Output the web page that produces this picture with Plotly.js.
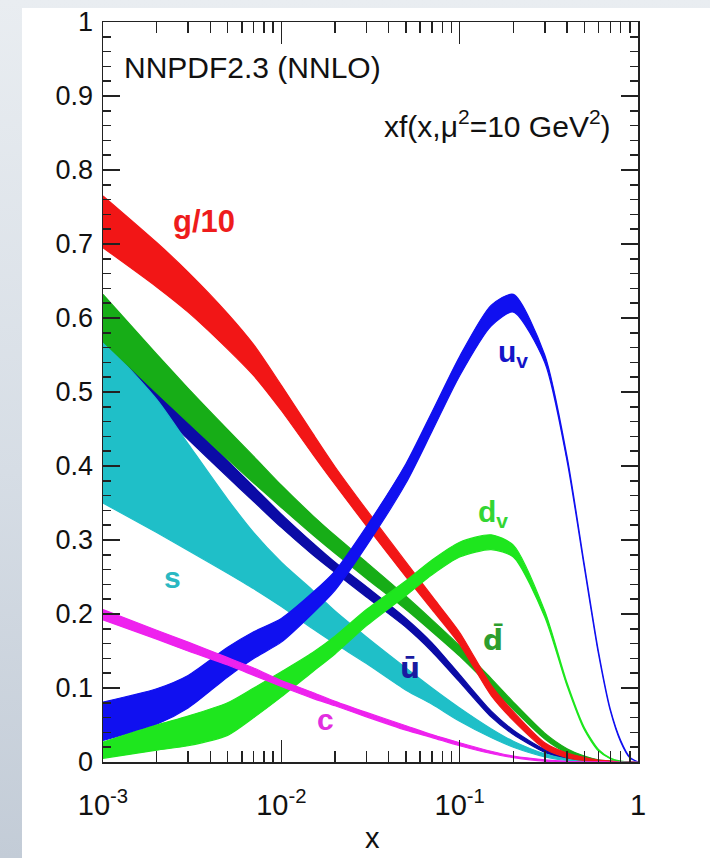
<!DOCTYPE html>
<html>
<head>
<meta charset="utf-8">
<script src="https://cdn.plot.ly/plotly-3.0.1.min.js"></script>
<style>
  html, body { margin:0; padding:0; width:710px; height:858px; overflow:hidden; }
  body { background: linear-gradient(to bottom, #e9edf1 0%, #d6dde5 55%, #c3ccd7 100%); position:relative; }
  #panel { position:absolute; left:22px; top:8px; right:0; bottom:0; background:#ffffff; }
  #chart { position:absolute; left:0; top:0; width:710px; height:858px; }
</style>
</head>
<body>
<div id="panel"></div>
<div id="chart"></div>
<script>
// x grid (momentum fraction)
const xs = [0.001,0.002,0.003,0.005,0.007,0.01,0.015,0.02,0.03,0.05,0.07,0.1,0.15,0.2,0.3,0.4,0.5,0.6,0.7,0.8,0.9,1.0];

// g/10 (central value and uncertainty)
const gCentral = [0.730,0.672,0.635,0.582,0.543,0.492,0.430,0.387,0.330,0.260,0.215,0.167,0.097,0.062,0.022,0.009,0.004,0.0015,0.0005,0.0001,0,0];
const gError   = [0.035,0.030,0.027,0.024,0.021,0.017,0.014,0.012,0.011,0.010,0.009,0.008,0.007,0.006,0.004,0.003,0.002,0.001,0.0008,0.0005,0.0003,0];

// dbar
const dbarCentral = [0.600,0.525,0.482,0.429,0.395,0.359,0.320,0.294,0.259,0.215,0.184,0.150,0.107,0.076,0.035,0.015,0.006,0.002,0.0007,0.0002,0,0];
const dbarError   = [0.032,0.026,0.023,0.020,0.018,0.015,0.013,0.012,0.011,0.009,0.008,0.007,0.006,0.005,0.004,0.003,0.002,0.001,0.0008,0.0005,0.0003,0];

// ubar
const ubarCentral = [0.560,0.490,0.448,0.396,0.362,0.326,0.288,0.263,0.230,0.188,0.155,0.113,0.065,0.040,0.015,0.006,0.002,0.0007,0.0002,0,0,0];
const ubarError   = [0.035,0.013,0.012,0.011,0.010,0.009,0.008,0.007,0.007,0.006,0.006,0.005,0.004,0.003,0.002,0.0015,0.001,0.0008,0.0005,0.0003,0.0002,0];

// s
const sCentral = [0.460,0.400,0.358,0.305,0.272,0.240,0.206,0.182,0.151,0.112,0.089,0.064,0.039,0.024,0.009,0.003,0.001,0.0002,0,0,0,0];
const sError   = [0.110,0.090,0.072,0.050,0.038,0.030,0.026,0.022,0.018,0.015,0.011,0.009,0.006,0.004,0.002,0.001,0.0005,0.0002,0.0001,0,0,0];

// c
const cCentral = [0.199,0.172,0.156,0.136,0.122,0.106,0.090,0.079,0.064,0.046,0.035,0.024,0.013,0.007,0.002,0.0005,0,0,0,0,0,0];
const cError   = [0.007,0.006,0.006,0.005,0.005,0.004,0.004,0.003,0.003,0.003,0.002,0.002,0.0015,0.001,0.001,0.0005,0.0003,0.0002,0,0,0,0];

// u valence
const uvCentral = [0.055,0.075,0.095,0.135,0.158,0.178,0.215,0.245,0.305,0.390,0.460,0.535,0.603,0.620,0.545,0.410,0.265,0.148,0.070,0.028,0.006,0];
const uvError   = [0.026,0.024,0.022,0.020,0.018,0.016,0.014,0.013,0.013,0.013,0.013,0.013,0.014,0.012,0.005,0.003,0.002,0.0015,0.001,0.001,0.0005,0];

// d valence
const dvCentral = [0.016,0.033,0.042,0.058,0.080,0.105,0.135,0.158,0.195,0.235,0.263,0.287,0.297,0.285,0.200,0.105,0.045,0.016,0.005,0.001,0,0];
const dvError   = [0.011,0.017,0.020,0.022,0.020,0.017,0.013,0.012,0.011,0.010,0.010,0.010,0.010,0.008,0.004,0.002,0.0015,0.001,0.0005,0.0003,0,0];

// axis tick labels
const xTickVals = [0.001, 0.01, 0.1, 1];
const xTickText = ['10<sup>-3</sup>', '10<sup>-2</sup>', '10<sup>-1</sup>', '1'];

const FONT = 'Liberation Sans, Arial, Helvetica, sans-serif';

function band(central, err, color, name) {
  const up = central.map((v, i) => v + err[i]);
  const lo = central.map((v, i) => Math.max(0, v - err[i]));
  return {
    type: 'scatter', mode: 'lines', name: name,
    x: xs.concat(xs.slice().reverse()),
    y: up.concat(lo.slice().reverse()),
    fill: 'toself', fillcolor: color,
    line: { color: color, width: 1.2, shape: 'spline', smoothing: 0.7 },
    hoverinfo: 'skip', showlegend: false
  };
}

const data = [
  band(ubarCentral, ubarError, '#0b0ba6', 'ubar'),
  band(sCentral, sError, '#1fbfc8', 's'),
  band(dbarCentral, dbarError, '#17ad17', 'dbar'),
  band(gCentral, gError, '#f21616', 'g/10'),
  band(uvCentral, uvError, '#1010f0', 'uv'),
  band(dvCentral, dvError, '#1ee61e', 'dv'),
  band(cCentral, cError, '#ee22ee', 'c')
];

const minorX = [];
for (let e = -3; e < 0; e++) for (let k = 2; k <= 9; k++) minorX.push(k * Math.pow(10, e));

const tickColor = '#222';
const layout = {
  width: 710, height: 858,
  margin: { l: 103, r: 72, t: 22, b: 96, pad: 0 },
  paper_bgcolor: 'rgba(0,0,0,0)',
  plot_bgcolor: '#ffffff',
  showlegend: false,
  font: { family: FONT, color: '#111' },
  xaxis: {
    type: 'log', range: [-3, 0],
    tickmode: 'array', tickvals: xTickVals, ticktext: xTickText,
    ticks: 'inside', ticklen: 22, tickwidth: 1.5, tickcolor: tickColor,
    showline: true, linecolor: tickColor, linewidth: 1.5, mirror: 'ticks',
    showgrid: false, zeroline: false,
    tickfont: { family: FONT, size: 29, color: '#111' },
    ticklabelstandoff: 17,
    minor: { tickmode: 'array', tickvals: minorX, ticks: 'inside', ticklen: 11, tickwidth: 1.5, tickcolor: tickColor, showgrid: false }
  },
  yaxis: {
    range: [0, 1], tick0: 0, dtick: 0.1,
    ticks: 'inside', ticklen: 17, tickwidth: 1.5, tickcolor: tickColor,
    showline: true, linecolor: tickColor, linewidth: 1.5, mirror: 'ticks',
    showgrid: false, zeroline: false,
    tickfont: { family: FONT, size: 27, color: '#111' },
    ticklabelstandoff: 3,
    minor: { dtick: 0.02, ticks: 'inside', ticklen: 8, tickwidth: 1.5, tickcolor: tickColor, showgrid: false }
  },
  annotations: [
    { text: 'NNPDF2.3 (NNLO)', xref: 'paper', yref: 'paper', x: 0.035, y: 0.938, xanchor: 'left', yanchor: 'middle', showarrow: false, font: { family: FONT, size: 30, color: '#111' } },
    { text: 'xf(x,μ<sup>2</sup>=10 GeV<sup>2</sup>)', xref: 'paper', yref: 'paper', x: 0.953, y: 0.862, xanchor: 'right', yanchor: 'middle', showarrow: false, font: { family: FONT, size: 30, color: '#111' } },
    { text: '<b>g/10</b>', xref: 'paper', yref: 'paper', x: 0.189, y: 0.730, xanchor: 'center', yanchor: 'middle', showarrow: false, font: { family: FONT, size: 31, color: '#ee1c1c' } },
    { text: '<b>u<sub>v</sub></b>', xref: 'paper', yref: 'paper', x: 0.766, y: 0.552, xanchor: 'center', yanchor: 'middle', showarrow: false, font: { family: FONT, size: 30, color: '#1414c8' } },
    { text: '<b>d<sub>v</sub></b>', xref: 'paper', yref: 'paper', x: 0.729, y: 0.336, xanchor: 'center', yanchor: 'middle', showarrow: false, font: { family: FONT, size: 30, color: '#33d633' } },
    { text: '<b>s</b>', xref: 'paper', yref: 'paper', x: 0.129, y: 0.250, xanchor: 'center', yanchor: 'middle', showarrow: false, font: { family: FONT, size: 30, color: '#2ab8c2' } },
    { text: '<b>d\u0304</b>', xref: 'paper', yref: 'paper', x: 0.729, y: 0.165, xanchor: 'center', yanchor: 'middle', showarrow: false, font: { family: 'DejaVu Sans, ' + FONT, size: 28, color: '#2e9e2e' } },
    { text: '<b>ū</b>', xref: 'paper', yref: 'paper', x: 0.574, y: 0.127, xanchor: 'center', yanchor: 'middle', showarrow: false, font: { family: 'DejaVu Sans, ' + FONT, size: 28, color: '#1a1aa0' } },
    { text: '<b>c</b>', xref: 'paper', yref: 'paper', x: 0.415, y: 0.057, xanchor: 'center', yanchor: 'middle', showarrow: false, font: { family: FONT, size: 30, color: '#e22ee0' } },
    { text: 'x', xref: 'paper', yref: 'paper', x: 0.503, y: -0.103, xanchor: 'center', yanchor: 'middle', showarrow: false, font: { family: FONT, size: 29, color: '#111' } }
  ]
};

Plotly.newPlot('chart', data, layout, { staticPlot: true, displayModeBar: false });
</script>
</body>
</html>
